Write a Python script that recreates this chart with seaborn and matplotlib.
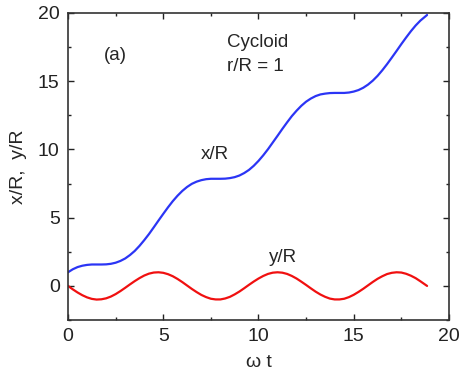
import matplotlib
matplotlib.use("Agg")
import matplotlib.pyplot as plt
from matplotlib.ticker import MultipleLocator
import seaborn as sns
import pandas as pd

wt = [0, 0.25, 0.5, 0.75, 1.0, 1.25, 1.5, 1.75, 2.0, 2.25, 2.5, 2.75,
      3.0, 3.25, 3.5, 3.75, 4.0, 4.25, 4.5, 4.75, 5.0, 5.25, 5.5, 5.75,
      6.0, 6.25, 6.5, 6.75, 7.0, 7.25, 7.5, 7.75, 8.0, 8.25, 8.5, 8.75,
      9.0, 9.25, 9.5, 9.75, 10.0, 10.25, 10.5, 10.75, 11.0, 11.25, 11.5, 11.75,
      12.0, 12.25, 12.5, 12.75, 13.0, 13.25, 13.5, 13.75, 14.0, 14.25, 14.5, 14.75,
      15.0, 15.25, 15.5, 15.75, 16.0, 16.25, 16.5, 16.75, 17.0, 17.25, 17.5, 17.75,
      18.0, 18.25, 18.5, 18.85]
x_over_R = [1.00, 1.22, 1.38, 1.48, 1.54, 1.57, 1.57, 1.57, 1.58, 1.62, 1.70, 1.83,
            2.01, 2.26, 2.56, 2.93, 3.35, 3.80, 4.29, 4.79, 5.28, 5.76, 6.21, 6.61,
            6.96, 7.25, 7.48, 7.64, 7.75, 7.82, 7.85, 7.85, 7.85, 7.86, 7.90, 7.97,
            8.09, 8.27, 8.50, 8.80, 9.16, 9.57, 10.02, 10.51, 11.00, 11.50, 11.98, 12.44,
            12.84, 13.20, 13.50, 13.73, 13.91, 14.03, 14.09, 14.13, 14.14, 14.14, 14.14, 14.17,
            14.24, 14.35, 14.52, 14.75, 15.04, 15.39, 15.80, 16.25, 16.73, 17.22, 17.72, 18.20,
            18.66, 19.08, 19.44, 19.85]
y_over_R = [0.00, -0.25, -0.48, -0.68, -0.84, -0.95, -1.00, -0.98, -0.91, -0.78, -0.60, -0.38,
            -0.14, 0.11, 0.35, 0.57, 0.76, 0.90, 0.98, 1.00, 0.96, 0.86, 0.71, 0.51,
            0.28, 0.03, -0.22, -0.45, -0.66, -0.82, -0.94, -0.99, -0.99, -0.92, -0.80, -0.62,
            -0.41, -0.17, 0.08, 0.32, 0.54, 0.73, 0.88, 0.97, 1.00, 0.97, 0.88, 0.73,
            0.54, 0.31, 0.07, -0.18, -0.42, -0.63, -0.80, -0.93, -0.99, -0.99, -0.94, -0.82,
            -0.65, -0.44, -0.21, 0.04, 0.29, 0.52, 0.71, 0.87, 0.96, 1.00, 0.98, 0.89,
            0.75, 0.57, 0.34, 0.00]

df = pd.DataFrame({"wt": wt, "x": x_over_R, "y": y_over_R})

sns.set_style("ticks")
plt.rcParams["font.family"] = ["Liberation Sans", "DejaVu Sans"]

fig = plt.figure(figsize=(4.64, 3.81), dpi=100)
ax = fig.add_axes([0.1466, 0.160, 0.821, 0.806])

sns.lineplot(data=df, x="wt", y="x", ax=ax, color="#2b35f5", linewidth=1.6)
sns.lineplot(data=df, x="wt", y="y", ax=ax, color="#f01010", linewidth=1.6)

ax.set_xlim(0, 20)
ax.set_ylim(-2.5, 20)
ax.xaxis.set_major_locator(MultipleLocator(5))
ax.xaxis.set_minor_locator(MultipleLocator(2.5))
ax.yaxis.set_major_locator(MultipleLocator(5))
ax.yaxis.set_minor_locator(MultipleLocator(2.5))
ax.tick_params(which="both", direction="in", top=True, right=True,
               labelsize=14, colors="#222222")
ax.tick_params(which="major", length=4, width=1, pad=6)
ax.tick_params(which="minor", length=2.5, width=1)
for s in ax.spines.values():
    s.set_color("#333333")
    s.set_linewidth(1.2)

ax.set_xlabel("ω t", fontsize=14, labelpad=6)
ax.set_ylabel("x/R,  y/R", fontsize=14, labelpad=8)

ax.text(2.47, 16.9, "(a)", fontsize=13.5, ha="center", va="center")
ax.text(8.35, 17.8, "Cycloid", fontsize=13.5, ha="left", va="center")
ax.text(8.35, 16.1, "r/R = 1", fontsize=13.5, ha="left", va="center")
ax.text(7.7, 9.6, "x/R", fontsize=13.5, ha="center", va="center")
ax.text(11.3, 2.05, "y/R", fontsize=13.5, ha="center", va="center")

fig.savefig("out.png", dpi=100)
